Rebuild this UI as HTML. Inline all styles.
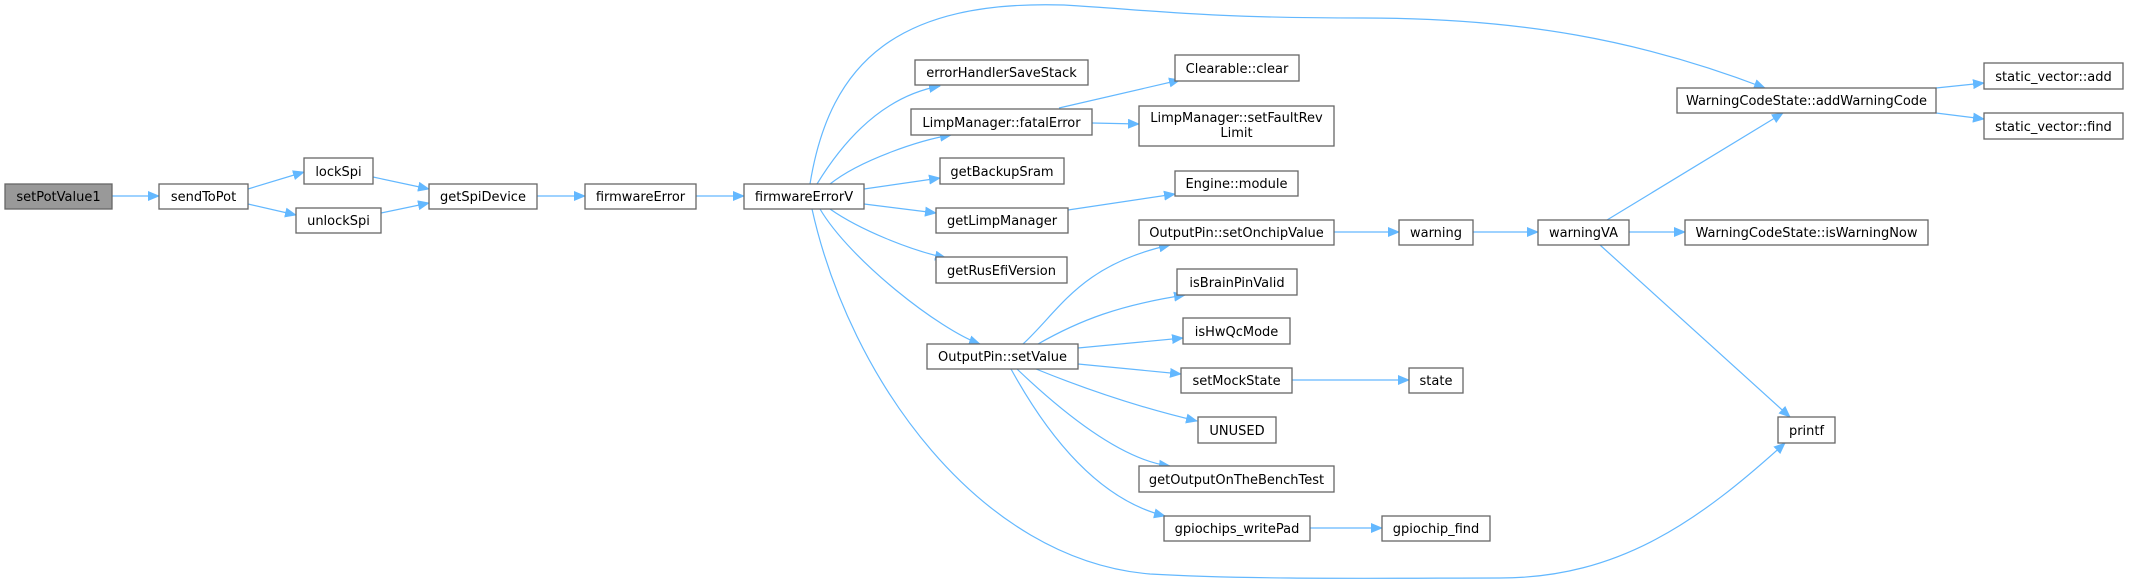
<!DOCTYPE html>
<html><head><meta charset="utf-8"><style>
html,body{margin:0;padding:0;background:#fff;width:2129px;height:585px;overflow:hidden}
svg text{font-family:"DejaVu Sans","Liberation Sans",sans-serif;font-size:13px;fill:#000}
</style></head><body>
<svg width="2129" height="585" viewBox="0 0 2129 585" xmlns="http://www.w3.org/2000/svg">
<defs><marker id="a" markerUnits="userSpaceOnUse" markerWidth="12" markerHeight="10" refX="11" refY="5" orient="auto"><path d="M0,0 L12,5 L0,10 z" fill="#63b8ff"/></marker></defs>
<g fill="none" stroke="#63b8ff" stroke-width="1.2" marker-end="url(#a)">
<path d="M112,196 L159,196"/>
<path d="M248,189 L304,172"/>
<path d="M248,204 L296,215"/>
<path d="M373,177 L429,189"/>
<path d="M381,213 L429,203"/>
<path d="M537,196 L585,196"/>
<path d="M696,196 L744,196"/>
<path d="M817,184 C850,130 890,95 940,86"/>
<path d="M830,184 C860,160 920,140 951,135"/>
<path d="M864,189 L940,178"/>
<path d="M864,204 L936,213"/>
<path d="M830,209 C860,230 910,250 946,258"/>
<path d="M820,209 C850,260 940,330 980,344"/>
<path d="M810,184 C830,60 900,0 1064,5 C1150,10 1200,18 1363,18 C1520,18 1640,40 1765,88"/>
<path d="M812,209 C850,380 980,560 1150,574 C1250,580 1400,578 1500,578 C1620,578 1700,520 1785,443"/>
<path d="M1059,108 L1180,80"/>
<path d="M1092,123 L1139,124"/>
<path d="M1068,210 L1175,194"/>
<path d="M1023,344 C1060,310 1080,265 1170,245"/>
<path d="M1038,344 C1080,320 1120,305 1185,295"/>
<path d="M1078,348 L1183,338"/>
<path d="M1078,364 L1181,374"/>
<path d="M1036,369 C1100,395 1150,410 1197,421"/>
<path d="M1017,369 C1060,410 1120,460 1170,466"/>
<path d="M1011,369 C1050,440 1100,500 1165,516"/>
<path d="M1334,232 L1399,232"/>
<path d="M1473,232 L1538,232"/>
<path d="M1629,232 L1685,232"/>
<path d="M1607,220 L1783,113"/>
<path d="M1600,245 L1790,417"/>
<path d="M1936,88 L1984,83"/>
<path d="M1936,113 L1984,119"/>
<path d="M1292,380 L1409,380"/>
<path d="M1310,528 L1382,528"/>
</g>
<g stroke="#666" stroke-width="1.3" fill="#fff">
<rect x="5" y="184" width="107" height="25" fill="#999"/>
<rect x="159" y="184" width="89" height="25"/>
<rect x="304" y="158" width="69" height="26"/>
<rect x="296" y="208" width="85" height="25"/>
<rect x="429" y="184" width="108" height="25"/>
<rect x="585" y="184" width="111" height="25"/>
<rect x="744" y="184" width="120" height="25"/>
<rect x="915" y="60" width="173" height="25"/>
<rect x="911" y="109" width="181" height="26"/>
<rect x="940" y="158" width="124" height="26"/>
<rect x="936" y="208" width="132" height="25"/>
<rect x="936" y="257" width="131" height="26"/>
<rect x="927" y="344" width="151" height="25"/>
<rect x="1175" y="55" width="124" height="26"/>
<rect x="1139" y="106" width="195" height="40"/>
<rect x="1175" y="171" width="123" height="25"/>
<rect x="1139" y="220" width="195" height="25"/>
<rect x="1399" y="220" width="74" height="25"/>
<rect x="1538" y="220" width="91" height="25"/>
<rect x="1685" y="220" width="243" height="25"/>
<rect x="1677" y="88" width="259" height="25"/>
<rect x="1984" y="63" width="139" height="26"/>
<rect x="1984" y="113" width="139" height="26"/>
<rect x="1177" y="269" width="120" height="26"/>
<rect x="1183" y="318" width="107" height="26"/>
<rect x="1181" y="368" width="111" height="25"/>
<rect x="1409" y="368" width="54" height="25"/>
<rect x="1198" y="417" width="78" height="26"/>
<rect x="1139" y="466" width="195" height="26"/>
<rect x="1164" y="516" width="146" height="25"/>
<rect x="1382" y="516" width="108" height="25"/>
<rect x="1778" y="417" width="57" height="26"/>
</g>
<g text-anchor="middle">
<text x="58.5" y="201">setPotValue1</text>
<text x="203.5" y="201">sendToPot</text>
<text x="338.5" y="176">lockSpi</text>
<text x="338.5" y="225">unlockSpi</text>
<text x="483" y="201">getSpiDevice</text>
<text x="640.5" y="201">firmwareError</text>
<text x="804" y="201">firmwareErrorV</text>
<text x="1001.5" y="77">errorHandlerSaveStack</text>
<text x="1001.5" y="127">LimpManager::fatalError</text>
<text x="1002" y="176">getBackupSram</text>
<text x="1002" y="225">getLimpManager</text>
<text x="1001.5" y="275">getRusEfiVersion</text>
<text x="1002.5" y="361">OutputPin::setValue</text>
<text x="1237" y="73">Clearable::clear</text>
<text x="1236.5" y="122">LimpManager::setFaultRev</text>
<text x="1236.5" y="137">Limit</text>
<text x="1236.5" y="188">Engine::module</text>
<text x="1236.5" y="237">OutputPin::setOnchipValue</text>
<text x="1436" y="237">warning</text>
<text x="1583.5" y="237">warningVA</text>
<text x="1806.5" y="237">WarningCodeState::isWarningNow</text>
<text x="1806.5" y="105">WarningCodeState::addWarningCode</text>
<text x="2053.5" y="81">static_vector::add</text>
<text x="2053.5" y="131">static_vector::find</text>
<text x="1237" y="287">isBrainPinValid</text>
<text x="1236.5" y="336">isHwQcMode</text>
<text x="1236.5" y="385">setMockState</text>
<text x="1436" y="385">state</text>
<text x="1237" y="435">UNUSED</text>
<text x="1236.5" y="484">getOutputOnTheBenchTest</text>
<text x="1237" y="533">gpiochips_writePad</text>
<text x="1436" y="533">gpiochip_find</text>
<text x="1806.5" y="435">printf</text>
</g>
</svg>
</body></html>
